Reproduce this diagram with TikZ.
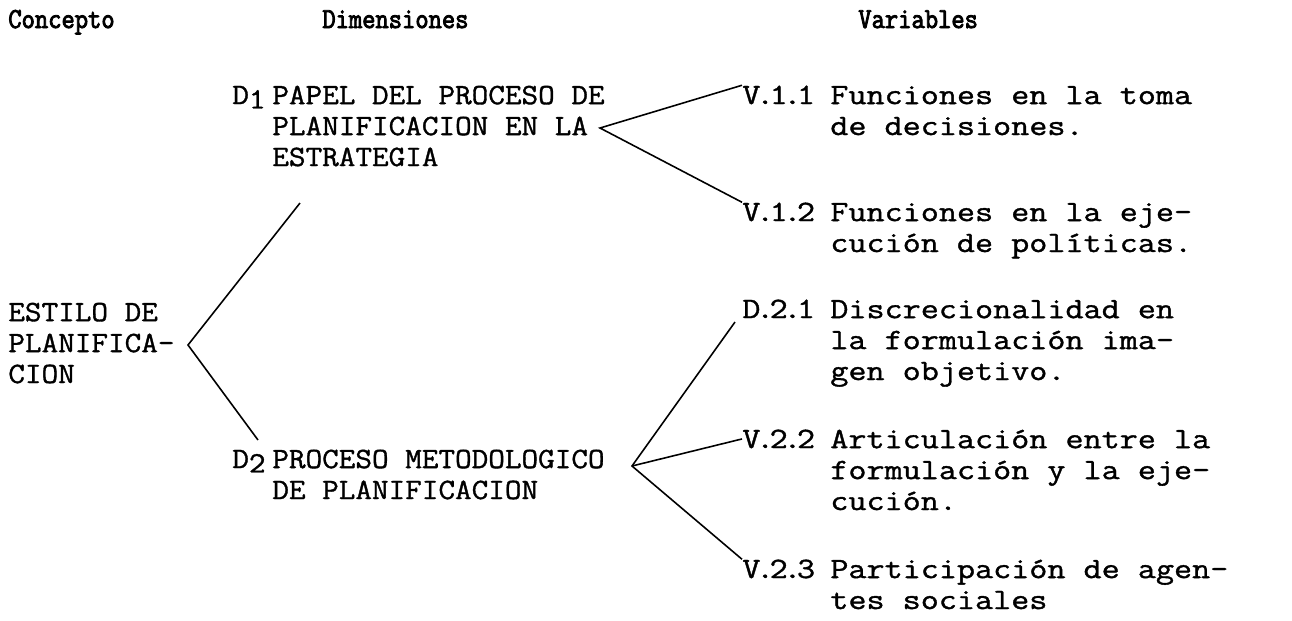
\documentclass[tikz,border=0pt]{standalone}
\usepackage{fontspec}
\newfontfamily\headtype[FakeStretch=0.89,FakeBold=3]{Latin Modern Mono}
\newfontfamily\dimtype[FakeStretch=1.093,FakeBold=1.2]{Latin Modern Mono}
\newfontfamily\vartype[FakeStretch=1.19,FakeBold=1.2]{Latin Modern Mono}
\usepackage{tikz}
\usetikzlibrary{positioning}

\newcommand\dotlab[3]{#1\kern-.15em.\kern-.15em#2\kern-.15em.\kern-.15em#3}

\begin{document}
\begin{tikzpicture}
    [ x = 0.02cm, y = -0.02cm
    , header/.style =
      { inner sep=0pt, anchor=base west,
        font=\headtype\fontsize{16.5}{17}\selectfont }
    , entry/.style =
      { inner sep=0pt, anchor=base west, align=left,
        font=\dimtype\fontsize{16.8}{17.6}\selectfont }
    , vartext/.style =
      { entry, font=\vartype\fontsize{16.8}{17.6}\selectfont }
    , branch/.style =
      { line width=.9pt }
    ]
    \useasboundingbox (0,0) rectangle (1292,620);

    % column headers
    \node [header] (hconcept) at (8,28) {Concepto};
    \node [header] (hdim) at (322,28) {Dimensiones};
    \node [header] (hvar) at (858,28) {Variables};

    % concept (anchored at the baseline of the last line)
    \node [entry] (estilo) at (8,383) {ESTILO DE\\PLANIFICA-\\CION};

    % dimensions
    \node [entry] (d1lab) at (232,104) {D\raisebox{-.35ex}{1}};
    \node [entry] (d1) at (272,166) {PAPEL DEL PROCESO DE\\PLANIFICACION EN LA\\ESTRATEGIA};
    \node [entry] (d2lab) at (232,468) {D\raisebox{-.35ex}{2}};
    \node [entry] (d2) at (272,499) {PROCESO METODOLOGICO\\DE PLANIFICACION};

    % variables
    \node [vartext] (v11lab) at (742,104) {\dotlab V11};
    \node [vartext] (v11) at (830,135) {Funciones en la toma\\de decisiones.};
    \node [vartext] (v12lab) at (742,221) {\dotlab V12};
    \node [vartext] (v12) at (830,252) {Funciones en la eje-\\cución de políticas.};
    \node [vartext] (d21lab) at (742,318) {\dotlab D21};
    \node [vartext] (d21) at (830,380) {Discrecionalidad en\\la formulación ima-\\gen objetivo.};
    \node [vartext] (v22lab) at (742,448) {\dotlab V22};
    \node [vartext] (v22) at (830,510) {Articulación entre la\\formulación y la eje-\\cución.};
    \node [vartext] (v23lab) at (742,578) {\dotlab V23};
    \node [vartext] (v23) at (830,609) {Participación de agen-\\tes sociales};

    % fork points
    \coordinate (estilofork) at (188,345);
    \coordinate (d1top) at (300,203);
    \coordinate (d2top) at (258,440);
    \coordinate (d1fork) at (600,128);
    \coordinate (d2fork) at (632,466);
    \coordinate (d21end) at (735,322);

    \draw [branch] (d1top) -- (estilofork) -- (d2top);
    \draw [branch] (v11lab.north west) -- (d1fork) -- (v12lab.north west);
    \draw [branch] (d21end) -- (d2fork) -- (v23lab.north west);
    \draw [branch] (d2fork) -- (v22lab.west);
\end{tikzpicture}
\end{document}
